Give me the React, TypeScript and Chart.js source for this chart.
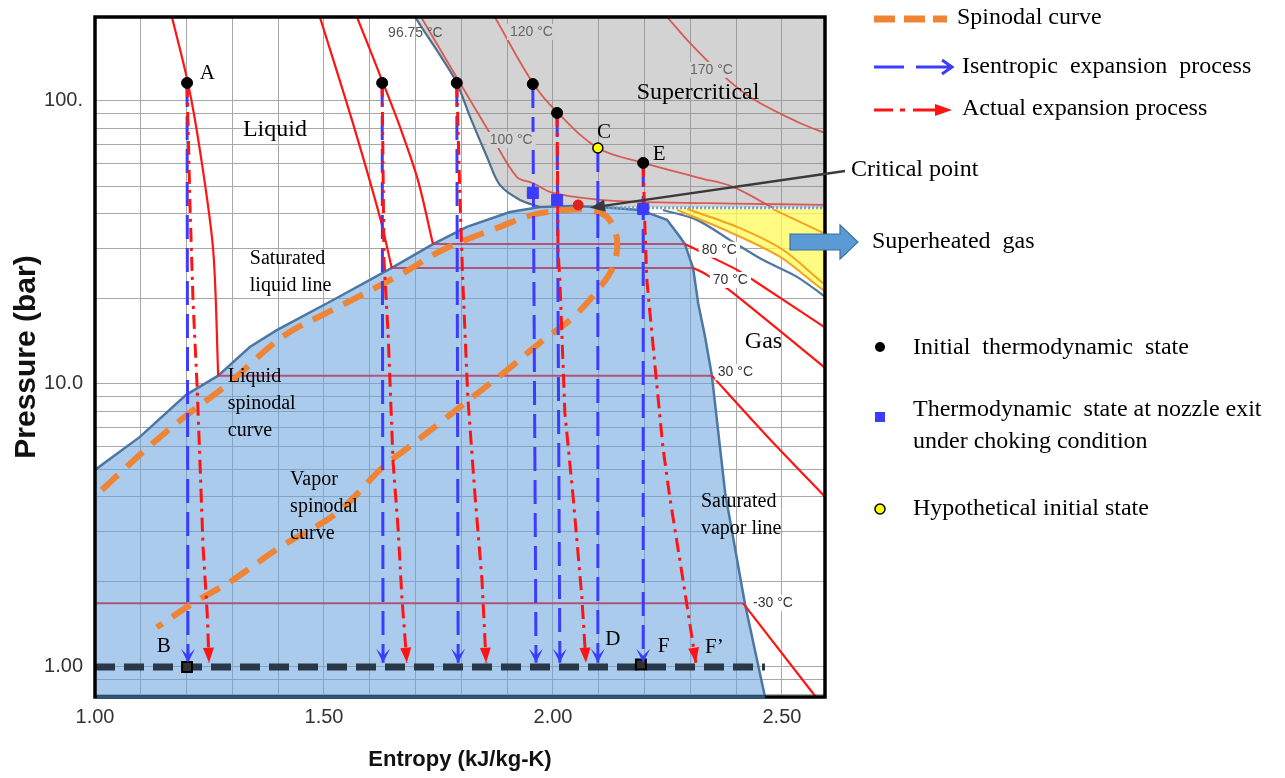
import React, { useEffect, useRef } from "react";
import { Chart, registerables } from "chart.js";

Chart.register(...registerables);

const SANS = "'Liberation Sans', Arial, sans-serif";
const SERIF = "'Liberation Serif', 'Times New Roman', serif";

// ---------- axes ----------
const X_MIN = 1.0;
const X_MAX = 2.594;
const Y_MIN = 0.783;
const Y_MAX = 198;
const X_GRID = [1.0, 1.1, 1.2, 1.3, 1.4, 1.5, 1.6, 1.7, 1.8, 1.9, 2.0, 2.1, 2.2, 2.3, 2.4, 2.5];
const X_TICK_VALUES = [1.0, 1.5, 2.0, 2.5];
const X_TICK_LABELS = ["1.00", "1.50", "2.00", "2.50"];
const Y_GRID = [0.8, 0.9, 1, 2, 3, 4, 5, 6, 7, 8, 9, 10, 20, 30, 40, 50, 60, 70, 80, 90, 100];
const Y_TICK_VALUES = [1, 10, 100];
const Y_TICK_LABELS = ["1.00", "10.0", "100."];

// ---------- regions ----------
const DOME_S = [1.0, 1.098, 1.199, 1.269, 1.338, 1.397, 1.52, 1.648, 1.738, 1.812, 1.906, 1.972, 2.04, 2.103, 2.19, 2.249, 2.277, 2.288, 2.306, 2.317, 2.332, 2.347, 2.376, 2.419, 2.463, 2.47, 1.0];
const DOME_P = [4.97, 6.5, 9.15, 10.7, 13.5, 15.5, 19.8, 25.7, 31.2, 35.9, 40.5, 42.2, 42.5, 42.2, 41.2, 38.0, 33.1, 31.2, 25.7, 19.3, 14.7, 10.7, 4.12, 1.68, 0.783, 0.7, 0.7];

const GRAY_S = [1.69, 2.65, 2.65, 1.972, 1.928, 1.884, 1.856, 1.819, 1.79, 1.753, 1.699];
const GRAY_P = [215, 215, 41.9, 42.2, 44.7, 50.5, 63.4, 87.8, 115.8, 145.4, 198];

const YEL_S = [2.24, 2.65, 2.65, 2.59, 2.496, 2.386, 2.271];
const YEL_P = [41.5, 41.5, 19.5, 21.5, 28.1, 34.4, 41.2];

// ---------- boundary lines ----------
const BOUND_S = [1.69, 1.699, 1.753, 1.79, 1.819, 1.856, 1.884, 1.928, 1.972];
const BOUND_P = [215, 198, 145.4, 115.8, 87.8, 63.4, 50.5, 44.7, 42.2];
const SUPERHEAT_EDGE_S = [2.24, 2.314, 2.386, 2.459, 2.533, 2.6];
const SUPERHEAT_EDGE_P = [41.2, 38.0, 32.3, 27.4, 23.9, 20.0];
const CRIT_P_LINE_S = [2.103, 2.6];
const CRIT_P_LINE_P = [41.9, 41.9];
const ORANGE1_S = [2.293, 2.402, 2.502, 2.59, 2.62];
const ORANGE1_P = [41.5, 35.9, 29.8, 22.7, 21.0];
const ORANGE2_S = [2.271, 2.386, 2.496, 2.59, 2.62];
const ORANGE2_P = [41.2, 34.4, 28.1, 21.5, 20.4];
const ORANGE3_S = [2.48, 2.59, 2.62];
const ORANGE3_P = [41.5, 34.2, 32.5];

// ---------- isotherms ----------
const ISO30_LIQ_S = [1.168, 1.203, 1.229, 1.258, 1.269];
const ISO30_LIQ_P = [198, 115.8, 67.1, 29.8, 10.7];
const ISO70_LIQ_S = [1.491, 1.561, 1.622, 1.648];
const ISO70_LIQ_P = [198, 85.7, 38.9, 25.7];
const ISO80_LIQ_S = [1.572, 1.629, 1.666, 1.705, 1.738];
const ISO80_LIQ_P = [198, 115.8, 80.9, 52.6, 31.2];
const ISO80_VAP_S = [2.288, 2.402, 2.437, 2.6];
const ISO80_VAP_P = [31.2, 25.3, 23.3, 15.6];
const ISO70_VAP_S = [2.306, 2.336, 2.391, 2.6];
const ISO70_VAP_P = [25.7, 24.3, 21.1, 11.2];
const ISO30_VAP_S = [2.347, 2.467, 2.6];
const ISO30_VAP_P = [10.7, 6.55, 3.9];
const ISOM30_VAP_S = [2.415, 2.574, 2.6];
const ISOM30_VAP_P = [1.68, 0.783, 0.74];
const TWO_PHASE_S0 = [1.738, 1.648, 1.269, 1.0];
const TWO_PHASE_S1 = [2.288, 2.306, 2.347, 2.415];
const TWO_PHASE_P = [31.2, 25.7, 10.7, 1.68];
const ISO100_S = [1.712, 1.797, 1.862, 1.921, 1.956, 2.0, 2.103, 2.19, 2.393, 2.6];
const ISO100_P = [198, 115.8, 77.1, 53.9, 51.3, 47.3, 44.7, 44.0, 43.4, 42.9];
const ISO120_S = [1.873, 1.956, 2.009, 2.098, 2.197, 2.321, 2.393, 2.48];
const ISO120_P = [198, 115.8, 91.4, 68.2, 60.4, 53.4, 49.7, 41.9];
const ISO170_S = [2.249, 2.299, 2.358, 2.43, 2.539, 2.6];
const ISO170_P = [198, 160.3, 128.7, 103.3, 83.6, 76.5];

// ---------- spinodal ----------
const SPIN_S = [1.015, 1.055, 1.127, 1.201, 1.288, 1.41, 1.52, 1.666, 1.76, 1.884, 1.956, 2.031, 2.074, 2.118, 2.14, 2.131, 2.103, 2.044, 1.972, 1.9, 1.825, 1.753, 1.677, 1.629, 1.528, 1.404, 1.301, 1.214, 1.135];
const SPIN_P = [4.22, 4.85, 6.19, 7.77, 9.92, 14.7, 18.3, 24.3, 29.8, 35.9, 39.6, 41.2, 41.2, 38.9, 32.3, 25.9, 22.0, 17.2, 14.0, 11.2, 9.0, 7.28, 5.85, 5.09, 3.5, 2.65, 2.03, 1.68, 1.38];

// ---------- outlet pressure ----------
const BASE_S = [1.0, 2.463];
const BASE_P = [1.0, 1.0];

// ---------- expansion processes ----------
const ISEN_S0 = [1.201, 1.627, 1.79, 1.956, 2.009, 2.098, 2.197];
const ISEN_P0 = [115.8, 115.8, 115.8, 114.8, 90.7, 68.2, 60.4];
const ISEN_S1 = [1.203, 1.629, 1.793, 1.963, 2.015, 2.098, 2.197];
const ISEN_END_P = 1.035;

const ACT_S = [
  [1.201, 1.207, 1.214, 1.223, 1.229, 1.236, 1.245, 1.249],
  [1.627, 1.631, 1.64, 1.644, 1.651, 1.662, 1.67, 1.681],
  [1.79, 1.797, 1.803, 1.814, 1.83, 1.845, 1.854],
  [2.009, 2.011, 2.015, 2.026, 2.044, 2.063, 2.072],
  [2.197, 2.201, 2.205, 2.223, 2.24, 2.255, 2.284, 2.312],
];
const ACT_P = [
  [115.8, 44.7, 19.8, 9.76, 5.39, 2.65, 1.55, 1.035],
  [115.8, 27.4, 15.1, 10.3, 5.26, 3.05, 1.77, 1.035],
  [115.8, 44.7, 23.3, 9.0, 3.99, 2.03, 1.035],
  [90.7, 29.8, 23.3, 7.9, 3.99, 1.77, 1.035],
  [60.4, 35.0, 23.3, 11.5, 5.99, 3.99, 2.03, 1.035],
];

// ---------- states ----------
const INIT_S = [1.201, 1.627, 1.79, 1.956, 2.009, 2.197];
const INIT_P = [115.8, 115.8, 115.8, 114.8, 90.7, 60.4];
const HYPO_S = [2.098];
const HYPO_P = [68.2];
const CHOKE_S = [1.956, 2.009, 2.197];
const CHOKE_P = [47.3, 44.7, 41.5];
const OUTLET_S = [1.201, 2.192];
const OUTLET_P = [1.0, 1.02];
const CRIT_S = [2.055];
const CRIT_P = [42.9];
const CRIT_ARROW_TIP = { s: 2.081, p: 41.9 };

// ---------- annotations ----------
const TEMP_LABELS = [
  { text: "96.75 °C", s: 1.64, p: 173.9, bg: "", color: "#555" },
  { text: "120 °C", s: 1.906, p: 175.3, bg: "#d3d3d3", color: "#666" },
  { text: "170 °C", s: 2.299, p: 128.7, bg: "#d3d3d3", color: "#666" },
  { text: "100 °C", s: 1.862, p: 72.8, bg: "#d3d3d3", color: "#666" },
  { text: "80 °C", s: 2.325, p: 29.8, bg: "#ffffff", color: "#333" },
  { text: "70 °C", s: 2.349, p: 23.3, bg: "#ffffff", color: "#333" },
  { text: "30 °C", s: 2.36, p: 11.0, bg: "#ffffff", color: "#333" },
  { text: "-30 °C", s: 2.437, p: 1.68, bg: "#ffffff", color: "#333" },
];
const TEXT_LABELS = [
  { lines: ["A"], s: 1.229, p: 124.6, size: 21 },
  { lines: ["Liquid"], s: 1.323, p: 79.0, size: 24 },
  { lines: ["Saturated", "liquid line"], s: 1.338, p: 27.7, size: 20 },
  { lines: ["Liquid", "spinodal", "curve"], s: 1.29, p: 10.6, size: 20 },
  { lines: ["Vapor", "spinodal", "curve"], s: 1.426, p: 4.58, size: 20 },
  { lines: ["Supercritical"], s: 2.183, p: 106.7, size: 24 },
  { lines: ["C"], s: 2.096, p: 77.1, size: 21 },
  { lines: ["E"], s: 2.218, p: 64.5, size: 21 },
  { lines: ["Gas"], s: 2.419, p: 14.1, size: 24 },
  { lines: ["Saturated", "vapor line"], s: 2.323, p: 3.83, size: 20 },
  { lines: ["B"], s: 1.135, p: 1.177, size: 21 },
  { lines: ["D"], s: 2.114, p: 1.246, size: 21 },
  { lines: ["F"], s: 2.229, p: 1.177, size: 21 },
  { lines: ["F\u2019"], s: 2.332, p: 1.167, size: 21 },
];

const BLUE = "#3c3cff";
const RED = "#ff1414";
const ORANGE = "#ee8434";

const pts = (s: number[], p: number[]) => s.map((x, i) => ({ x, y: p[i] }));

const lineDs = (s: number[], p: number[], color: string, width: number, dash: number[] = [], tension = 0) => ({
  data: pts(s, p),
  showLine: true,
  borderColor: color,
  backgroundColor: color,
  borderWidth: width,
  borderDash: dash,
  borderCapStyle: "butt",
  pointRadius: 0,
  fill: false,
  tension,
});
const polyDs = (s: number[], p: number[], fillColor: string, border = "rgba(0,0,0,0)", bw = 1) => ({
  data: pts(s, p),
  showLine: true,
  fill: "shape",
  backgroundColor: fillColor,
  borderColor: border,
  borderWidth: bw,
  pointRadius: 0,
  tension: 0,
});
const pointDs = (s: number[], p: number[], style: string, radius: number, bg: string, border: string, bw: number) => ({
  data: pts(s, p),
  showLine: false,
  pointStyle: style,
  pointRadius: radius,
  pointBackgroundColor: bg,
  pointBorderColor: border,
  pointBorderWidth: bw,
  backgroundColor: bg,
  borderColor: border,
});

function labelFor(v: number, vals: number[], labels: string[]) {
  const i = vals.findIndex((t) => Math.abs(t - v) < 1e-6 * Math.max(1, t));
  return i >= 0 ? labels[i] : "";
}

function arrowHead(ctx: any, x0: number, y0: number, x1: number, y1: number, kind: string, color: string, len: number, half: number) {
  const a = Math.atan2(y1 - y0, x1 - x0);
  ctx.save();
  ctx.translate(x1, y1);
  ctx.rotate(a);
  ctx.beginPath();
  ctx.moveTo(0, 0);
  ctx.lineTo(-len, -half);
  if (kind === "chevron") ctx.lineTo(-len * 0.5, 0);
  ctx.lineTo(-len, half);
  ctx.closePath();
  ctx.fillStyle = color;
  ctx.fill();
  ctx.restore();
}

const overlayPlugin = {
  id: "overlay",
  afterDatasetsDraw(chart: any) {
    const ctx = chart.ctx;
    const ca = chart.chartArea;
    const xs = chart.scales.x;
    const ys = chart.scales.y;
    const X = (s: number) => xs.getPixelForValue(s);
    const Y = (p: number) => ys.getPixelForValue(p);

    ctx.save();
    ctx.beginPath();
    ctx.rect(ca.left, ca.top, ca.right - ca.left, ca.bottom - ca.top);
    ctx.clip();

    ISEN_S0.forEach((s0, i) => {
      arrowHead(ctx, X(s0), Y(ISEN_P0[i]), X(ISEN_S1[i]), Y(ISEN_END_P), "chevron", BLUE, 14, 7);
    });
    ACT_S.forEach((ss, i) => {
      const pp = ACT_P[i];
      const n = ss.length;
      arrowHead(ctx, X(ss[n - 2]), Y(pp[n - 2]), X(ss[n - 1]), Y(pp[n - 1]), "tri", RED, 15, 5.5);
    });

    ctx.textBaseline = "middle";
    ctx.textAlign = "left";
    ctx.font = `14px ${SANS}`;
    TEMP_LABELS.forEach((l) => {
      const x = X(l.s);
      const y = Y(l.p);
      const w = ctx.measureText(l.text).width;
      if (l.bg) {
        ctx.fillStyle = l.bg;
        ctx.fillRect(x - 3, y - 8, w + 6, 16);
      }
      ctx.fillStyle = l.color;
      ctx.fillText(l.text, x, y);
    });

    TEXT_LABELS.forEach((l) => {
      ctx.font = `${l.size}px ${SERIF}`;
      ctx.fillStyle = "#000";
      l.lines.forEach((t, k) => ctx.fillText(t, X(l.s), Y(l.p) + k * 27));
    });
    ctx.restore();

    // frame
    ctx.save();
    ctx.strokeStyle = "#000";
    ctx.lineWidth = 3.5;
    ctx.strokeRect(ca.left, ca.top, ca.right - ca.left, ca.bottom - ca.top);
    ctx.strokeStyle = "#2f557c";
    ctx.beginPath();
    ctx.moveTo(ca.left + 2, ca.bottom);
    ctx.lineTo(X(DOME_S[24]), ca.bottom);
    ctx.stroke();
    ctx.restore();

    // critical point pointer
    ctx.save();
    const tx = X(CRIT_ARROW_TIP.s);
    const ty = Y(CRIT_ARROW_TIP.p);
    ctx.strokeStyle = "#3a3a3a";
    ctx.lineWidth = 2.5;
    ctx.beginPath();
    ctx.moveTo(845, 171);
    ctx.lineTo(tx + 10, ty - 1.5);
    ctx.stroke();
    arrowHead(ctx, 845, 171, tx, ty, "tri", "#3a3a3a", 15, 6);
    ctx.restore();

    // superheated gas block arrow
    ctx.save();
    ctx.beginPath();
    ctx.moveTo(790, 234);
    ctx.lineTo(840, 234);
    ctx.lineTo(840, 225);
    ctx.lineTo(858, 242);
    ctx.lineTo(840, 259);
    ctx.lineTo(840, 250);
    ctx.lineTo(790, 250);
    ctx.closePath();
    ctx.fillStyle = "#5b9bd5";
    ctx.fill();
    ctx.strokeStyle = "#41719c";
    ctx.lineWidth = 1.2;
    ctx.stroke();
    ctx.restore();

    // legend & side texts
    ctx.save();
    ctx.textBaseline = "middle";
    ctx.textAlign = "left";
    ctx.lineCap = "butt";
    ctx.strokeStyle = ORANGE;
    ctx.lineWidth = 7;
    [[874, 895], [904, 925], [933, 947]].forEach(([a, b]) => {
      ctx.beginPath();
      ctx.moveTo(a, 19);
      ctx.lineTo(b, 19);
      ctx.stroke();
    });
    ctx.strokeStyle = BLUE;
    ctx.lineWidth = 3;
    ctx.beginPath();
    ctx.moveTo(874, 67);
    ctx.lineTo(904, 67);
    ctx.moveTo(916, 67);
    ctx.lineTo(951, 67);
    ctx.moveTo(942, 60);
    ctx.lineTo(952, 67);
    ctx.lineTo(942, 74);
    ctx.stroke();
    ctx.strokeStyle = RED;
    ctx.beginPath();
    ctx.moveTo(874, 110);
    ctx.lineTo(893, 110);
    ctx.moveTo(900, 110);
    ctx.lineTo(905, 110);
    ctx.moveTo(913, 110);
    ctx.lineTo(936, 110);
    ctx.stroke();
    ctx.fillStyle = RED;
    ctx.beginPath();
    ctx.moveTo(935, 104);
    ctx.lineTo(952, 110);
    ctx.lineTo(935, 116);
    ctx.closePath();
    ctx.fill();
    ctx.fillStyle = "#000";
    ctx.beginPath();
    ctx.arc(880, 347, 5, 0, Math.PI * 2);
    ctx.fill();
    ctx.fillStyle = BLUE;
    ctx.fillRect(875, 412, 10, 10);
    ctx.fillStyle = "#ffff00";
    ctx.strokeStyle = "#000";
    ctx.lineWidth = 1.5;
    ctx.beginPath();
    ctx.arc(880, 509, 5, 0, Math.PI * 2);
    ctx.fill();
    ctx.stroke();

    ctx.fillStyle = "#000";
    ctx.font = `24px ${SERIF}`;
    ctx.fillText("Spinodal curve", 957, 18);
    ctx.fillText("Isentropic  expansion  process", 962, 67);
    ctx.fillText("Actual expansion process", 962, 109);
    ctx.fillText("Critical point", 851, 170);
    ctx.fillText("Superheated  gas", 872, 242);
    ctx.fillText("Initial  thermodynamic  state", 913, 348);
    ctx.fillText("Thermodynamic  state at nozzle exit", 913, 410);
    ctx.fillText("under choking condition", 913, 442);
    ctx.fillText("Hypothetical initial state", 913, 509);
    ctx.restore();
  },
};

export default function App() {
  const ref = useRef<HTMLCanvasElement | null>(null);

  useEffect(() => {
    const layers: any[] = [
      polyDs(GRAY_S, GRAY_P, "rgba(140,140,140,0.38)"),
      polyDs(DOME_S, DOME_P, "rgba(100,160,220,0.55)", "#4d77a3", 2.5),
      polyDs(YEL_S, YEL_P, "rgba(255,250,90,0.75)"),
      ...TWO_PHASE_S0.map((s0, i) => lineDs([s0, TWO_PHASE_S1[i]], [TWO_PHASE_P[i], TWO_PHASE_P[i]], "rgba(178,62,100,0.85)", 2)),
      lineDs(ISO30_LIQ_S, ISO30_LIQ_P, RED, 2.2, [], 0.3),
      lineDs(ISO70_LIQ_S, ISO70_LIQ_P, RED, 2.2, [], 0.3),
      lineDs(ISO80_LIQ_S, ISO80_LIQ_P, RED, 2.2, [], 0.3),
      lineDs(ISO80_VAP_S, ISO80_VAP_P, RED, 2.2, [], 0.2),
      lineDs(ISO70_VAP_S, ISO70_VAP_P, RED, 2.2, [], 0.2),
      lineDs(ISO30_VAP_S, ISO30_VAP_P, RED, 2.2, [], 0.2),
      lineDs(ISOM30_VAP_S, ISOM30_VAP_P, RED, 2.2),
      lineDs(ISO100_S, ISO100_P, "rgba(214,80,72,0.9)", 1.8, [], 0.35),
      lineDs(ISO120_S, ISO120_P, "rgba(214,80,72,0.9)", 1.8, [], 0.35),
      lineDs(ISO170_S, ISO170_P, "rgba(214,80,72,0.9)", 1.8, [], 0.35),
      lineDs(BOUND_S, BOUND_P, "#4f6f8f", 2.2, [], 0.3),
      lineDs(SUPERHEAT_EDGE_S, SUPERHEAT_EDGE_P, "#4f77a0", 2.2, [], 0.3),
      lineDs(CRIT_P_LINE_S, CRIT_P_LINE_P, "#6d9fd0", 3, [2, 2]),
      lineDs(ORANGE1_S, ORANGE1_P, "#f5a21e", 2, [], 0.3),
      lineDs(ORANGE2_S, ORANGE2_P, "#f5a21e", 2, [], 0.3),
      lineDs(ORANGE3_S, ORANGE3_P, "#f5a21e", 2),
      lineDs(SPIN_S, SPIN_P, ORANGE, 6, [22, 12], 0.35),
      lineDs(BASE_S, BASE_P, "#283848", 7, [20, 9]),
      ...ISEN_S0.map((s0, i) => lineDs([s0, ISEN_S1[i]], [ISEN_P0[i], ISEN_END_P], BLUE, 3, [24, 9])),
      ...ACT_S.map((ss, i) => lineDs(ss, ACT_P[i], RED, 3, [14, 6, 3, 6])),
      pointDs(CRIT_S, CRIT_P, "circle", 5, "#e0201c", "#e0201c", 1),
      pointDs(CHOKE_S, CHOKE_P, "rect", 7.8, BLUE, BLUE, 1),
      pointDs(OUTLET_S, OUTLET_P, "rect", 7, "#303030", "#000", 2),
      pointDs(INIT_S, INIT_P, "circle", 5.5, "#000", "#000", 1),
      pointDs(HYPO_S, HYPO_P, "circle", 5, "#ffff00", "#000", 1.5),
    ];
    const datasets = layers.map((d, i) => ({ ...d, order: layers.length - i }));

    const chart = new Chart(ref.current as HTMLCanvasElement, {
      type: "scatter",
      data: { datasets },
      options: {
        responsive: false,
        animation: false,
        devicePixelRatio: 1,
        events: [],
        layout: { padding: { left: 0, top: 17, right: 460, bottom: 0 } },
        plugins: { legend: { display: false }, tooltip: { enabled: false } },
        scales: {
          x: {
            type: "linear",
            min: X_MIN,
            max: X_MAX,
            afterBuildTicks: (sc: any) => {
              sc.ticks = X_GRID.map((v) => ({ value: v }));
            },
            afterFit: (sc: any) => {
              sc.height = 81;
              sc.paddingLeft = 0;
              sc.paddingRight = 0;
            },
            ticks: {
              autoSkip: false,
              maxRotation: 0,
              padding: 8,
              color: "#333",
              font: { family: SANS, size: 20 },
              callback: (v: any) => labelFor(Number(v), X_TICK_VALUES, X_TICK_LABELS),
            },
            grid: { color: "#a8a8a8", lineWidth: 1, drawTicks: false },
            border: { display: false },
            title: {
              display: true,
              text: "Entropy (kJ/kg-K)",
              color: "#111",
              font: { family: SANS, size: 22, weight: "bold" },
              padding: { top: 0, bottom: 5 },
            },
          },
          y: {
            type: "logarithmic",
            min: Y_MIN,
            max: Y_MAX,
            afterBuildTicks: (sc: any) => {
              sc.ticks = Y_GRID.map((v) => ({ value: v }));
            },
            afterFit: (sc: any) => {
              sc.width = 95;
              sc.paddingTop = 0;
              sc.paddingBottom = 0;
            },
            ticks: {
              autoSkip: false,
              padding: 12,
              color: "#333",
              font: { family: SANS, size: 20 },
              callback: (v: any) => labelFor(Number(v), Y_TICK_VALUES, Y_TICK_LABELS),
            },
            grid: { color: "#a8a8a8", lineWidth: 1, drawTicks: false },
            border: { display: false },
            title: {
              display: true,
              text: "Pressure (bar)",
              color: "#111",
              font: { family: SANS, size: 30, weight: "bold" },
              padding: { top: 9, bottom: 0 },
            },
          },
        },
      } as any,
      plugins: [overlayPlugin],
    } as any);
    return () => chart.destroy();
  }, []);

  return (
    <div style={{ position: "fixed", left: 0, top: 0, width: 1285, height: 778, background: "#fff" }}>
      <canvas ref={ref} width={1285} height={778} style={{ display: "block", width: 1285, height: 778 }} />
    </div>
  );
}
